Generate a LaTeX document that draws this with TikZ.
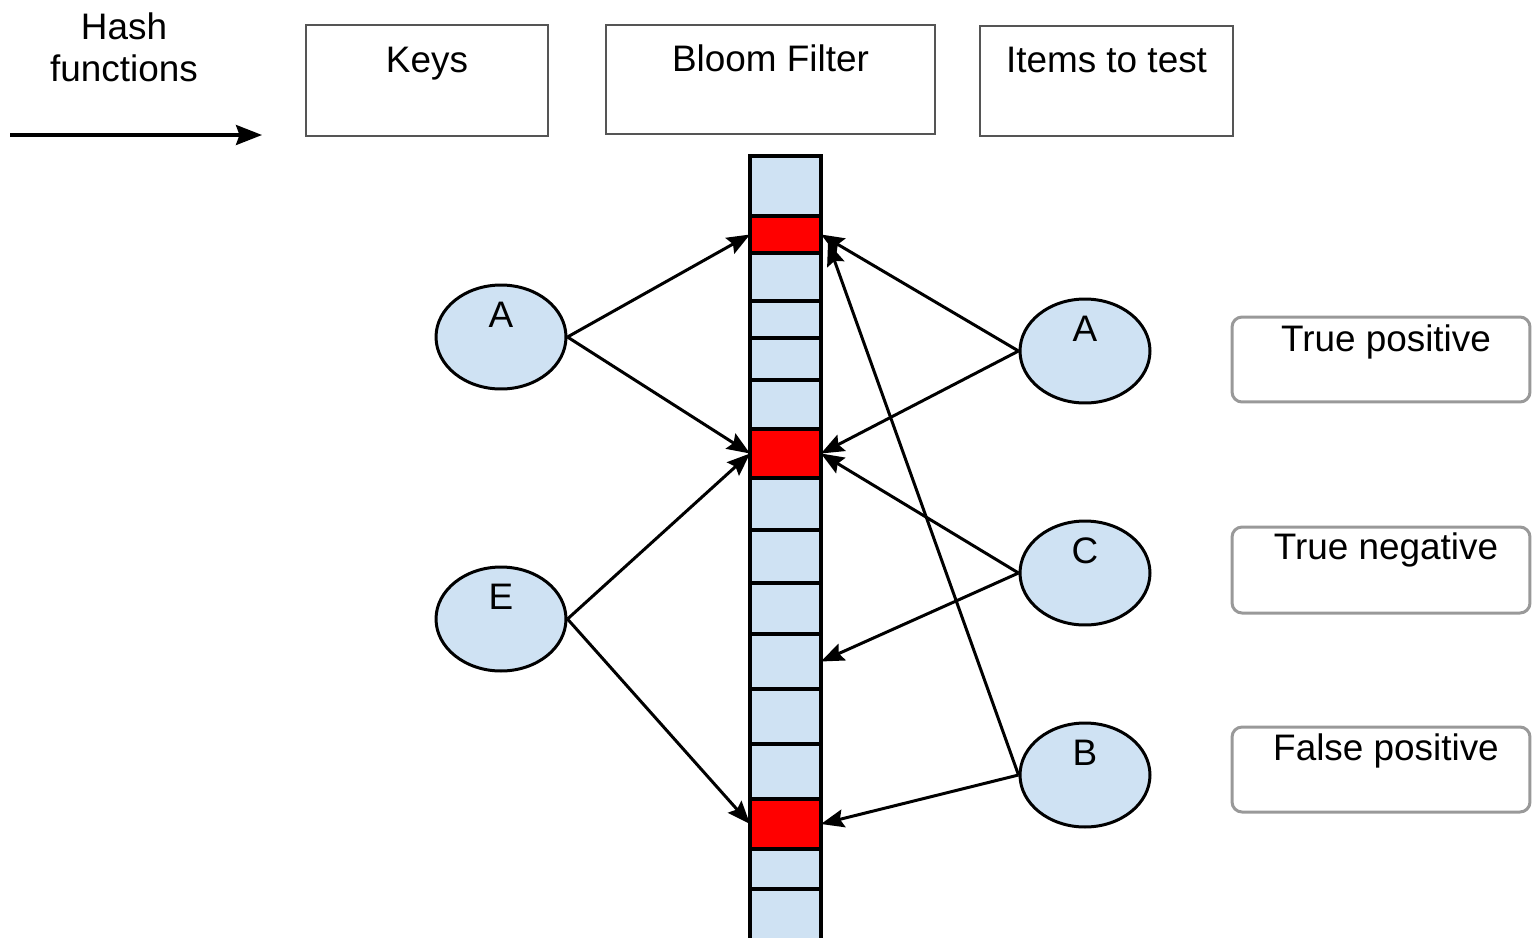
\documentclass[tikz,border=0pt]{standalone}
\usepackage{fontspec}
\setmainfont{Liberation Sans}
\usetikzlibrary{shapes.geometric,arrows.meta}
\definecolor{cellblue}{HTML}{CFE2F3}
\definecolor{boxgray}{HTML}{555555}
\definecolor{roundgray}{HTML}{999999}
\definecolor{bitred}{HTML}{FF0000}
\begin{document}
\begin{tikzpicture}[x=0.02cm,y=-0.02cm,
  txt/.style={font=\fontsize{21}{24}\selectfont},
  topbox/.style={draw=boxgray, line width=0.04cm, rectangle, inner sep=0},
  resbox/.style={draw=roundgray, line width=0.06cm, rounded corners=0.2cm, rectangle, inner sep=0},
  cellbox/.style={draw=black, line width=0.07cm, rectangle, inner sep=0, outer sep=0, minimum width=1.42cm},
  keynode/.style={ellipse, draw=black, fill=cellblue, line width=0.06cm, minimum width=2.6cm, minimum height=2.08cm, inner sep=0},
  conn/.style={-{Stealth[length=0.46cm,width=0.36cm,inset=0.07cm]}, line width=0.06cm},
  hasharrow/.style={-{Stealth[length=0.52cm,width=0.4cm,inset=0.07cm]}, line width=0.065cm},
]
\useasboundingbox (0,0) rectangle (1532,937);

% header
\node[txt, align=center, anchor=north, inner sep=0] (hash) at (124,12) {Hash\\functions};
\coordinate (h1) at (10,135);
\coordinate (h2) at (262,135);
\draw[hasharrow] (h1) -- (h2);

\node[topbox, minimum width=4.84cm, minimum height=2.22cm,
  label={[txt,anchor=base,yshift=-0.96cm]north:Keys}] (keys) at (427,80.5) {};
\node[topbox, minimum width=6.58cm, minimum height=2.18cm,
  label={[txt,anchor=base,yshift=-0.94cm]north:Bloom Filter}] (bloom) at (770.5,79.5) {};
\node[topbox, minimum width=5.06cm, minimum height=2.2cm,
  label={[txt,anchor=base,yshift=-0.94cm]north:Items to test}] (items) at (1106.5,81) {};

% bit array
\foreach \t/\b/\c [count=\i] in {156/216/cellblue, 216/253/bitred, 253/301/cellblue, 301/338/cellblue,
  338/380/cellblue, 380/429/cellblue, 429/478/bitred, 478/530/cellblue, 530/583/cellblue,
  583/634/cellblue, 634/689/cellblue, 689/744/cellblue, 744/799/cellblue, 799/849/bitred,
  849/889/cellblue, 889/940/cellblue} {
  \node[cellbox, fill=\c, minimum height={(\b-\t)*0.02cm}] (c\i) at (785.5,{(\t+\b)/2}) {};
}

% keys
\node[keynode, label={[txt,yshift=0.44cm]center:A}] (lA) at (501,337) {};
\node[keynode, label={[txt,yshift=0.44cm]center:E}] (lE) at (501,619) {};
% items to test
\node[keynode, label={[txt,yshift=0.44cm]center:A}] (rA) at (1085,351) {};
\node[keynode, label={[txt,yshift=0.44cm]center:C}] (rC) at (1085,573) {};
\node[keynode, label={[txt,yshift=0.44cm]center:B}] (rB) at (1085,775) {};

% result boxes
\node[resbox, minimum width=5.96cm, minimum height=1.7cm,
  label={[txt,anchor=base,xshift=0.1cm,yshift=-0.72cm]north:True positive}] (tp) at (1381,359.5) {};
\node[resbox, minimum width=5.96cm, minimum height=1.72cm,
  label={[txt,anchor=base,xshift=0.1cm,yshift=-0.68cm]north:True negative}] (tn) at (1381,570) {};
\node[resbox, minimum width=5.96cm, minimum height=1.7cm,
  label={[txt,anchor=base,xshift=0.1cm,yshift=-0.7cm]north:False positive}] (fp) at (1381,769.5) {};

% connectors
\draw[conn] (lA.east) -- (c2.west);
\draw[conn] (lA.east) -- (c7.west);
\draw[conn] (lE.east) -- (c7.west);
\draw[conn] (lE.east) -- (c14.west);
\draw[conn] (rA.west) -- (c2.east);
\draw[conn] (rA.west) -- (c7.east);
\draw[conn] (rC.west) -- (c7.east);
\draw[conn] (rC.west) -- (c11.east);
\draw[conn] (rB.west) -- ([shift={(7,8)}]c2.east);
\draw[conn] (rB.west) -- (c14.east);
\end{tikzpicture}
\end{document}
